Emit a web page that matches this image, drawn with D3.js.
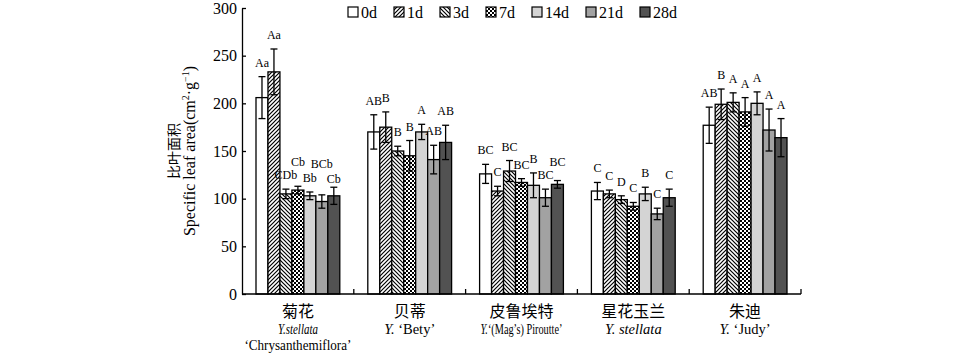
<!DOCTYPE html>
<html lang="zh">
<head>
  <meta charset="UTF-8">
  <title>比叶面积</title>
  <script src="https://d3js.org/d3.v7.min.js"></script>
  <style>
    body { margin: 0; background: #fff; }
    text { font-family: "Liberation Serif", "Noto Sans CJK SC", serif; fill: #000; }
  </style>
</head>
<body>
<script>
  // 品种与处理天数
  var groups = ['菊花', '贝蒂', '皮鲁埃特', '星花玉兰', '朱迪'];
  var days = ['0d', '1d', '3d', '7d', '14d', '21d', '28d'];
  // 均值 (cm2/g)
  var means = [
    [206, 233, 105, 109, 103, 97, 103],
    [170, 175, 150, 145, 170, 141, 159],
    [126, 108, 129, 117, 114, 101, 115],
    [108, 105, 99, 92, 105, 84, 101],
    [177, 199, 201, 191, 200, 172, 164]
  ];
  // 标准误
  var errs = [
    [22, 24, 5, 4, 4, 7, 9],
    [18, 16, 5, 16, 8, 15, 18],
    [10, 5, 11, 4, 13, 9, 4],
    [9, 4, 4, 4, 7, 6, 9],
    [19, 16, 10, 15, 12, 22, 20]
  ];
  // 显著性字母
  var letters = [
    ['Aa', 'Aa', 'CDb', 'Cb', 'Bb', 'BCb', 'Cb'],
    ['AB', 'B', 'B', 'B', 'A', 'AB', 'AB'],
    ['BC', 'C', 'BC', 'BC', 'B', 'BC', 'BC'],
    ['C', 'C', 'D', 'C', 'B', 'C', 'C'],
    ['AB', 'B', 'A', 'A', 'A', 'A', 'A']
  ];
  var yTicks = [0, 50, 100, 150, 200, 250, 300];
  // 拉丁名 (文字, 是否斜体)
  var latin1 = [
    [['Y.stellata', true]],
    [['Y.', true], [' \u2018Bety\u2019', false]],
    [['Y.', true], ['\u2018(Mag\u2019s) Piroutte\u2019', false]],
    [['Y. stellata', true]],
    [['Y.', true], [' \u2018Judy\u2019', false]]
  ];
  var latin2 = ['\u2018Chrysanthemiflora\u2019', '', '', '', ''];

  var width = 974, height = 354;
  var svg = d3.select('body').append('svg').attr('width', width).attr('height', height);

  // 填充样式
  var defs = svg.append('defs');
  var p1 = defs.append('pattern').attr('id', 'p1d').attr('patternUnits', 'userSpaceOnUse')
    .attr('width', 4).attr('height', 4);
  p1.append('rect').attr('width', 4).attr('height', 4).attr('fill', '#fff');
  p1.append('path').attr('d', 'M-1,1 L1,-1 M0,4 L4,0 M3,5 L5,3').attr('stroke', '#000').attr('stroke-width', 1.2);
  var p3 = defs.append('pattern').attr('id', 'p3d').attr('patternUnits', 'userSpaceOnUse')
    .attr('width', 4).attr('height', 4);
  p3.append('rect').attr('width', 4).attr('height', 4).attr('fill', '#fff');
  p3.append('path').attr('d', 'M-1,3 L1,5 M0,0 L4,4 M3,-1 L5,1').attr('stroke', '#000').attr('stroke-width', 1.2);
  var p7 = defs.append('pattern').attr('id', 'p7d').attr('patternUnits', 'userSpaceOnUse')
    .attr('width', 4).attr('height', 4);
  p7.append('rect').attr('width', 4).attr('height', 4).attr('fill', '#fff');
  p7.append('rect').attr('width', 2).attr('height', 2).attr('fill', '#000');
  p7.append('rect').attr('x', 2).attr('y', 2).attr('width', 2).attr('height', 2).attr('fill', '#000');
  var fills = {'0d': '#fff', '1d': 'url(#p1d)', '3d': 'url(#p3d)', '7d': 'url(#p7d)',
               '14d': '#d4d4d4', '21d': '#a2a2a2', '28d': '#525252'};

  // 比例尺
  var x0 = d3.scaleBand().domain(groups).range([242, 801]);
  var x1 = d3.scaleBand().domain(days).range([14, x0.bandwidth() - 14]);
  var y = d3.scaleLinear().domain([0, 300]).range([294, 8]);

  // 柱子
  var rows = [];
  groups.forEach(function(g, gi) {
    days.forEach(function(d, di) {
      rows.push({g: g, d: d, v: means[gi][di], e: errs[gi][di], t: letters[gi][di], di: di});
    });
  });
  var bars = svg.append('g');
  bars.selectAll('rect').data(rows).enter().append('rect')
    .attr('x', function(r) { return x0(r.g) + x1(r.d); })
    .attr('y', function(r) { return y(r.v); })
    .attr('width', x1.bandwidth())
    .attr('height', function(r) { return y(0) - y(r.v); })
    .attr('fill', function(r) { return fills[r.d]; })
    .attr('stroke', '#000').attr('stroke-width', 1.3);

  // 误差线
  var eb = svg.append('g').attr('stroke', '#000').attr('stroke-width', 1.3);
  rows.forEach(function(r) {
    var cx = x0(r.g) + x1(r.d) + x1.bandwidth() / 2;
    eb.append('line').attr('x1', cx).attr('x2', cx).attr('y1', y(r.v + r.e)).attr('y2', y(r.v - r.e));
    eb.append('line').attr('x1', cx - 3.5).attr('x2', cx + 3.5).attr('y1', y(r.v + r.e)).attr('y2', y(r.v + r.e));
    eb.append('line').attr('x1', cx - 3.5).attr('x2', cx + 3.5).attr('y1', y(r.v - r.e)).attr('y2', y(r.v - r.e));
  });

  // 字母标注: 与前一个重叠时先试着放低, 不行再上移
  var lab = svg.append('g').attr('font-size', '12px').attr('text-anchor', 'middle');
  var prev = null;
  function hits(b, p) {
    return p && b.l < p.r - 1 && b.r > p.l + 1 && b.b > p.b - 13 && b.b - 13 < p.b;
  }
  rows.forEach(function(r) {
    var cx = x0(r.g) + x1(r.d) + x1.bandwidth() / 2;
    var top = y(r.v + r.e);
    var t = lab.append('text').attr('x', cx).attr('y', top - 10).text(r.t);
    var w = t.node().getComputedTextLength();
    var box = {l: cx - w / 2, r: cx + w / 2, b: top - 10};
    if (r.di > 0 && hits(box, prev)) {
      box.b = top - 4;
      if (hits(box, prev)) box.b = prev.b - 13.5;
      t.attr('y', box.b);
    }
    prev = box;
  });

  // y轴
  svg.append('g').attr('transform', 'translate(242,0)')
    .call(d3.axisLeft(y).tickValues(yTicks).tickSizeInner(-4).tickSizeOuter(0).tickPadding(5))
    .call(function(g) {
      g.selectAll('path,line').attr('stroke', '#000').attr('stroke-width', 1.3);
      g.selectAll('text').attr('font-size', '16px').attr('font-family', 'Liberation Serif');
    });

  // x轴
  var xa = svg.append('g').attr('stroke', '#000').attr('stroke-width', 1.3);
  xa.append('line').attr('x1', 242).attr('x2', 801).attr('y1', y(0)).attr('y2', y(0));
  groups.forEach(function(g) {
    var bx = x0(g) + x0.bandwidth();
    xa.append('line').attr('x1', bx).attr('x2', bx).attr('y1', y(0)).attr('y2', y(0) - 5);
  });

  // x轴标签 (部分行横向压缩, 用scale保持包围盒正确)
  var squeeze = {'0-1': 40, '0-2': 107, '2-1': 82};
  var xl = svg.append('g').attr('text-anchor', 'middle');
  function line(cx, yy, key) {
    var g = xl.append('g').attr('transform', 'translate(' + cx + ',' + yy + ')');
    var t = g.append('text').attr('font-size', '14.5px');
    return {g: g, t: t, key: key};
  }
  function fit(o) {
    if (!squeeze[o.key]) return;
    var w = o.t.node().getComputedTextLength();
    o.g.attr('transform', o.g.attr('transform') + ' scale(' + (squeeze[o.key] / w) + ',1)');
  }
  groups.forEach(function(g, gi) {
    var cx = x0(g) + x0.bandwidth() / 2;
    xl.append('text').attr('x', cx).attr('y', 317).attr('font-size', '16px').text(g);
    var l1 = line(cx, 333.5, gi + '-1');
    latin1[gi].forEach(function(s) {
      l1.t.append('tspan').attr('font-style', s[1] ? 'italic' : 'normal').text(s[0]);
    });
    fit(l1);
    if (latin2[gi]) {
      var l2 = line(cx, 350, gi + '-2');
      l2.t.text(latin2[gi]);
      fit(l2);
    }
  });

  // y轴标题
  var yt = svg.append('g').attr('transform', 'translate(0,151) rotate(-90)').attr('text-anchor', 'middle');
  yt.append('text').attr('x', 0).attr('y', 179).attr('font-size', '14px').text('比叶面积');
  var en = yt.append('text').attr('x', 0).attr('y', 195).attr('font-size', '16px');
  en.append('tspan').text('Specific leaf area(cm');
  en.append('tspan').attr('font-size', '10px').attr('dy', -6).text('2');
  en.append('tspan').attr('dy', 6).text('\u00b7g');
  en.append('tspan').attr('font-size', '10px').attr('dy', -6).text('\u22121');
  en.append('tspan').attr('dy', 6).text(')');

  // 图例
  var lg = svg.append('g').attr('font-size', '16px');
  var lx = 348;
  days.forEach(function(d) {
    lg.append('rect').attr('x', lx).attr('y', 7).attr('width', 10).attr('height', 10)
      .attr('fill', fills[d]).attr('stroke', '#000').attr('stroke-width', 1.2);
    var t = lg.append('text').attr('x', lx + 13).attr('y', 17.5).text(d);
    lx += 13 + t.node().getComputedTextLength() + 17;
  });
</script>
</body>
</html>
